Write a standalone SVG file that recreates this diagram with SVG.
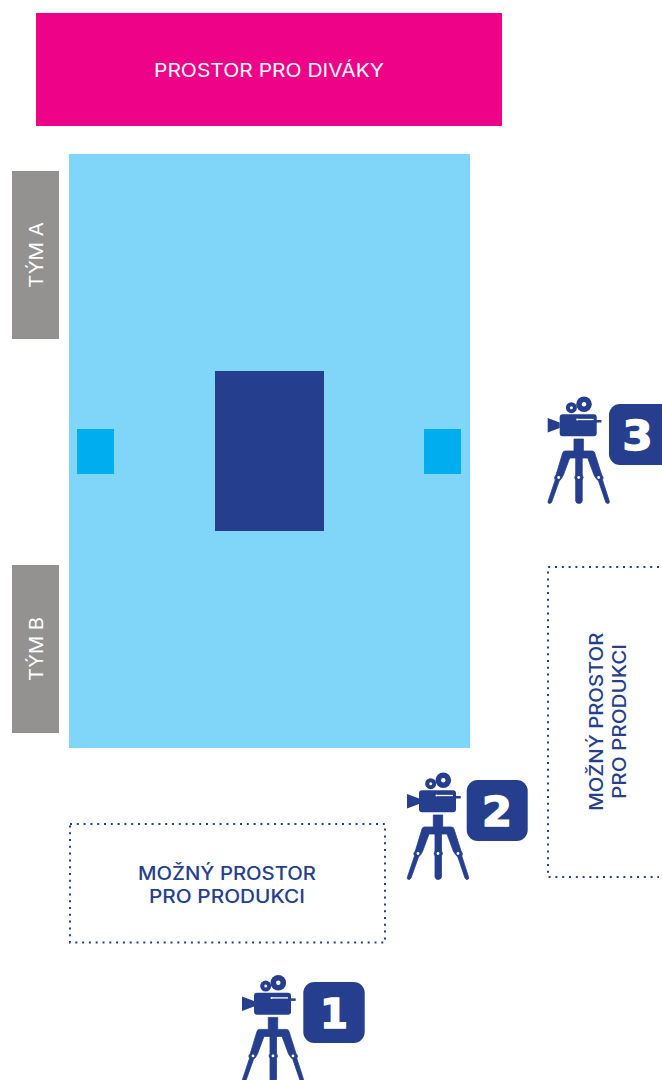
<svg xmlns="http://www.w3.org/2000/svg" width="662" height="1080" viewBox="0 0 662 1080">
<style>
.t{font-family:"Inter","Liberation Sans",sans-serif;font-size:18px;text-anchor:middle;font-weight:400}
.w{fill:#fff}.b{fill:#253f8e}
text.b{font-weight:500}
.d{fill:none;stroke:#253f8e;stroke-width:2;stroke-dasharray:2 4.800}
.n{font-family:"DejaVu Sans",sans-serif;font-weight:700;font-size:40px;fill:#fff;stroke:#fff;stroke-width:1.500;text-anchor:middle}
.l{stroke:#253f8e;stroke-width:.8;stroke-linejoin:round}
</style>
<defs>
<g id="cam">
<path class="b" d="M407 794L419 798.500V804L407 808.500Z"/>
<rect class="b" x="419" y="790.300" width="37" height="22" rx="3"/>
<path class="b" d="M455 796H460.700V798.500H455Z"/>
<circle class="b" cx="430.700" cy="783.700" r="5.500"/>
<circle class="b" cx="443.300" cy="780.300" r="7.800"/>
<circle cx="430.700" cy="783.700" r="1.500" fill="#fff"/>
<circle cx="443.300" cy="780.300" r="2.200" fill="#fff"/>
<path d="M437 795.500H453" stroke="#fff" stroke-width="1.300" fill="none"/>
<circle cx="436.500" cy="795.500" r="1" fill="#fff"/>
<path class="b l" d="M433.300 815H442.700V827H451.500Q453.500 827 454 829L461 851L462.500 853.500L461.800 856L468.700 877.500Q468.800 879.500 467 879.500Q465.800 879.500 465 878L457.800 857L455.500 854.500L453.500 851.500L447 834H441.500V851L442.500 853.500L441.500 856V877Q441 879.500 438 879.500Q435.500 879.500 435 877V856L434 853.500L435 851V834H429L422.500 851.500L420.800 854.500L418.500 857L411 878Q410 879.500 408.800 879.500Q407 879.500 407.300 877.500L414.500 856L413.800 853.500L415.300 851L422 829Q422.500 827 424.500 827H433.300Z"/>
<circle cx="418" cy="853.500" r="1.400" fill="#fff"/>
<circle cx="438" cy="853.500" r="1.400" fill="#fff"/>
<circle cx="458" cy="853.500" r="1.400" fill="#fff"/>
</g>
</defs>
<g id="audience"><rect x="36" y="13" width="466" height="113" fill="#ee0288"/><text class="t w" x="269" y="77" textLength="230" lengthAdjust="spacingAndGlyphs">PROSTOR PRO DIVÁKY</text></g>
<g id="field"><rect x="69" y="154" width="401" height="594" fill="#7fd6f9"/></g>
<g id="center"><rect x="215" y="371" width="109" height="160" fill="#253f8e"/></g>
<g id="goal-left"><rect x="77" y="429" width="37" height="45" fill="#00aeef"/></g>
<g id="goal-right"><rect x="424" y="429" width="37" height="45" fill="#00aeef"/></g>
<g id="team-a"><rect x="12" y="171" width="47" height="168" fill="#949291"/><text class="t w" transform="translate(42.500 255) rotate(-90)" textLength="66" lengthAdjust="spacingAndGlyphs">TÝM A</text></g>
<g id="team-b"><rect x="12" y="565" width="47" height="168" fill="#949291"/><text class="t w" transform="translate(42.500 649) rotate(-90)" textLength="64" lengthAdjust="spacingAndGlyphs">TÝM B</text></g>
<g id="production-1"><rect class="d" x="70" y="824" width="315" height="118.500"/>
<text class="t b" x="227" y="880" textLength="178" lengthAdjust="spacingAndGlyphs">MOŽNÝ PROSTOR</text>
<text class="t b" x="227" y="903" textLength="156" lengthAdjust="spacingAndGlyphs">PRO PRODUKCI</text></g>
<g id="production-2"><path class="d" d="M659 567H548V877H659"/>
<text class="t b" transform="translate(602.700 721.700) rotate(-90)" textLength="178" lengthAdjust="spacingAndGlyphs">MOŽNÝ PROSTOR</text>
<text class="t b" transform="translate(626 721.500) rotate(-90)" textLength="155" lengthAdjust="spacingAndGlyphs">PRO PRODUKCI</text></g>
<g id="camera-1"><use href="#cam" x="-165" y="202.400"/><rect class="b" x="303.300" y="982" width="61.400" height="61" rx="11"/><text class="n" x="334" y="1027.500" textLength="28" lengthAdjust="spacingAndGlyphs">1</text></g>
<g id="camera-2"><use href="#cam"/><rect class="b" x="466.700" y="780" width="61" height="61" rx="11"/><text class="n" x="497" y="825.500" textLength="30" lengthAdjust="spacingAndGlyphs">2</text></g>
<g id="camera-3"><use href="#cam" x="140.700" y="-376"/><rect class="b" x="609" y="404" width="70" height="61" rx="11"/><text class="n" x="637.500" y="449.500" textLength="30" lengthAdjust="spacingAndGlyphs">3</text></g>
<g id="connectors"/>
</svg>
